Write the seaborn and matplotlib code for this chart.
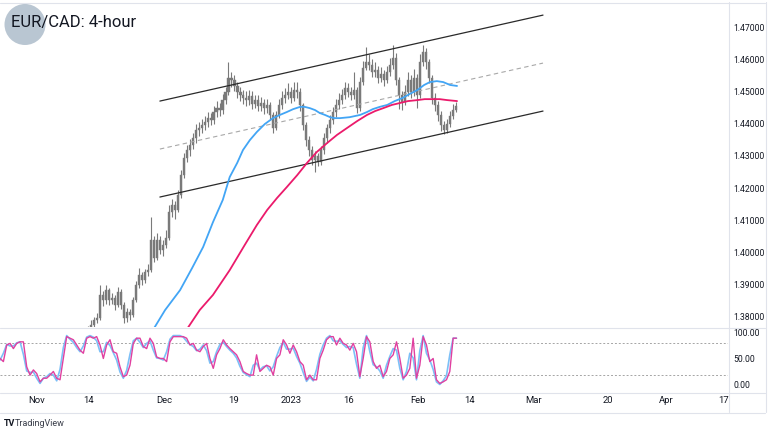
import numpy as np
import pandas as pd
import seaborn as sns
import matplotlib
matplotlib.use("Agg")
import matplotlib.pyplot as plt
from matplotlib import font_manager
from matplotlib.patches import Circle
from matplotlib.lines import Line2D

# ---------------- data ----------------
title = "EUR/CAD: 4-hour"
# x axis in business-day index (0 = 1 Nov 2022)
date_tick_pos = [0, 9, 22, 34, 44, 54, 66, 75, 86, 99, 109, 119]
date_tick_labels = ["Nov", "14", "Dec", "19", "2023", "16", "Feb", "14", "Mar", "20", "Apr", "17"]
price_ticks = [1.38, 1.39, 1.40, 1.41, 1.42, 1.43, 1.44, 1.45, 1.46, 1.47]
stoch_ticks = [0, 50, 100]

bar_start, bar_end = 8.3, 72.6
first_open = 1.3735
closes = [1.3743, 1.3759, 1.3775, 1.3790, 1.3796, 1.3868, 1.3852, 1.3883, 1.3852, 1.3858,
          1.3837, 1.3877, 1.3837, 1.3796, 1.3815, 1.3806, 1.3852, 1.3899, 1.3930, 1.3914,
          1.3939, 1.3945, 1.4039, 1.3983, 1.4039, 1.4008, 1.4023, 1.4045, 1.4125, 1.4147,
          1.4132, 1.4178, 1.4240, 1.4293, 1.4318, 1.4334, 1.4355, 1.4380, 1.4386, 1.4396,
          1.4405, 1.4417, 1.4411, 1.4436, 1.4448, 1.4442, 1.4473, 1.4498, 1.4542, 1.4535,
          1.4517, 1.4498, 1.4489, 1.4480, 1.4473, 1.4486, 1.4461, 1.4473, 1.4455, 1.4464,
          1.4448, 1.4458, 1.4427, 1.4386, 1.4427, 1.4458, 1.4480, 1.4489, 1.4498, 1.4480,
          1.4504, 1.4498, 1.4458, 1.4396, 1.4349, 1.4318, 1.4287, 1.4299, 1.4281, 1.4318,
          1.4355, 1.4386, 1.4411, 1.4436, 1.4458, 1.4473, 1.4489, 1.4511, 1.4498, 1.4489,
          1.4504, 1.4448, 1.4529, 1.4573, 1.4591, 1.4582, 1.4560, 1.4566, 1.4542, 1.4554,
          1.4535, 1.4560, 1.4582, 1.4604, 1.4535, 1.4489, 1.4467, 1.4498, 1.4535, 1.4498,
          1.4542, 1.4489, 1.4591, 1.4622, 1.4591, 1.4542, 1.4480, 1.4458, 1.4427, 1.4396,
          1.4380, 1.4399, 1.4424, 1.4442, 1.4455]
highs = [1.3755, 1.3770, 1.3790, 1.3800, 1.3812, 1.3900, 1.3880, 1.3898, 1.3890, 1.3875,
         1.3868, 1.3893, 1.3885, 1.3845, 1.3828, 1.3825, 1.3862, 1.3912, 1.3952, 1.3940,
         1.3950, 1.3965, 1.4110, 1.4050, 1.4060, 1.4050, 1.4040, 1.4070, 1.4147, 1.4165,
         1.4160, 1.4195, 1.4255, 1.4310, 1.4335, 1.4352, 1.4372, 1.4398, 1.4405, 1.4415,
         1.4425, 1.4435, 1.4432, 1.4455, 1.4470, 1.4465, 1.4492, 1.4515, 1.4591, 1.4560,
         1.4550, 1.4530, 1.4515, 1.4505, 1.4500, 1.4505, 1.4500, 1.4490, 1.4488, 1.4482,
         1.4478, 1.4475, 1.4468, 1.4435, 1.4440, 1.4475, 1.4500, 1.4510, 1.4525, 1.4515,
         1.4528, 1.4530, 1.4510, 1.4465, 1.4405, 1.4360, 1.4330, 1.4315, 1.4310, 1.4332,
         1.4370, 1.4400, 1.4428, 1.4452, 1.4475, 1.4495, 1.4508, 1.4530, 1.4525, 1.4515,
         1.4560, 1.4515, 1.4545, 1.4595, 1.4638, 1.4615, 1.4600, 1.4590, 1.4580, 1.4575,
         1.4568, 1.4578, 1.4605, 1.4644, 1.4620, 1.4545, 1.4500, 1.4520, 1.4560, 1.4550,
         1.4570, 1.4555, 1.4615, 1.4644, 1.4635, 1.4600, 1.4550, 1.4495, 1.4470, 1.4438,
         1.4408, 1.4415, 1.4440, 1.4460, 1.4468]
lows = [1.3725, 1.3735, 1.3750, 1.3765, 1.3780, 1.3790, 1.3835, 1.3840, 1.3838, 1.3840,
        1.3822, 1.3830, 1.3825, 1.3782, 1.3785, 1.3790, 1.3800, 1.3845, 1.3890, 1.3900,
        1.3905, 1.3928, 1.3940, 1.3970, 1.3975, 1.3995, 1.3990, 1.4015, 1.4040, 1.4110,
        1.4105, 1.4125, 1.4170, 1.4230, 1.4280, 1.4300, 1.4320, 1.4340, 1.4362, 1.4370,
        1.4380, 1.4390, 1.4395, 1.4400, 1.4420, 1.4425, 1.4430, 1.4460, 1.4490, 1.4515,
        1.4500, 1.4480, 1.4470, 1.4462, 1.4455, 1.4458, 1.4445, 1.4448, 1.4438, 1.4440,
        1.4430, 1.4432, 1.4410, 1.4372, 1.4380, 1.4418, 1.4445, 1.4465, 1.4478, 1.4465,
        1.4470, 1.4480, 1.4440, 1.4380, 1.4330, 1.4300, 1.4270, 1.4250, 1.4268, 1.4272,
        1.4305, 1.4340, 1.4372, 1.4398, 1.4420, 1.4445, 1.4460, 1.4475, 1.4482, 1.4472,
        1.4475, 1.4432, 1.4440, 1.4520, 1.4565, 1.4565, 1.4545, 1.4545, 1.4525, 1.4530,
        1.4518, 1.4525, 1.4548, 1.4570, 1.4520, 1.4445, 1.4442, 1.4458, 1.4485, 1.4480,
        1.4485, 1.4448, 1.4480, 1.4580, 1.4570, 1.4525, 1.4462, 1.4438, 1.4408, 1.4378,
        1.4368, 1.4370, 1.4390, 1.4415, 1.4435]

# moving averages (business-day index, price)
ma_fast_x = [20.1, 22.2, 24.8, 26.9, 28.8, 30.5, 32.2, 33.4, 34.7, 35.7, 36.9, 38.1, 39.5, 40.9,
             42.1, 43.3, 44.4, 45.6, 46.4, 47.3, 48.2, 49.0, 49.9, 50.8, 51.6, 52.5, 54.2, 56.0,
             57.2, 58.2, 59.4, 60.7, 62.0, 63.4, 64.6, 65.9, 67.1, 68.1, 69.3, 70.4, 71.6, 72.8]
ma_fast_y = [1.3759, 1.3821, 1.3883, 1.3952, 1.4017, 1.4094, 1.4163, 1.4234, 1.4278, 1.4318,
             1.4349, 1.4374, 1.4399, 1.4417, 1.4427, 1.4436, 1.4445, 1.4452, 1.4452, 1.4448,
             1.4442, 1.4433, 1.4427, 1.4420, 1.4417, 1.4417, 1.4420, 1.4427, 1.4436, 1.4445,
             1.4452, 1.4458, 1.4470, 1.4480, 1.4492, 1.4504, 1.4520, 1.4529, 1.4532, 1.4529,
             1.4520, 1.4517]
ma_slow_x = [26.0, 28.2, 30.5, 33.4, 36.0, 38.1, 39.9, 41.6, 43.3, 45.1, 46.8, 48.5, 50.3, 52.0,
             53.7, 55.5, 57.2, 58.6, 60.0, 61.5, 62.9, 64.3, 65.9, 67.2, 68.6, 69.8, 71.1, 72.8]
ma_slow_y = [1.3762, 1.3821, 1.3868, 1.3945, 1.4023, 1.4085, 1.4132, 1.4169, 1.4203, 1.4240,
             1.4278, 1.4312, 1.4340, 1.4365, 1.4386, 1.4408, 1.4427, 1.4439, 1.4448, 1.4458,
             1.4464, 1.4470, 1.4473, 1.4476, 1.4476, 1.4476, 1.4473, 1.4470]

# channel (business-day index, price)
channel_x = [21.3, 87.7]
channel_upper = [1.4470, 1.4737]
channel_mid = [1.4321, 1.4588]
channel_lower = [1.4172, 1.4439]

# stochastic RSI
stoch_start, stoch_end = -6.4, 72.7
stoch_d = [51, 45, 77, 80, 70, 80, 83, 83, 35, 19, 29, 22, 6, 13, 13, 19, 26, 13, 10, 51,
           93, 90, 87, 77, 67, 61, 90, 93, 90, 93, 77, 51, 77, 87, 64, 61, 35, 16, 19, 38,
           80, 90, 90, 74, 70, 90, 80, 54, 51, 51, 45, 83, 93, 93, 93, 93, 90, 77, 80, 67,
           64, 74, 80, 51, 32, 58, 70, 87, 77, 70, 64, 58, 45, 26, 22, 19, 19, 58, 26, 32,
           38, 35, 19, 51, 58, 87, 77, 61, 77, 64, 45, 38, 10, 19, 10, 10, 51, 67, 87, 93,
           93, 77, 90, 80, 77, 67, 80, 64, 16, 51, 93, 83, 45, 32, 38, 16, 26, 51, 58, 83,
           51, 13, 19, 32, 90, 13, 38, 93, 77, 45, 51, 10, 3, 6, 10, 26, 90, 90]
stoch_k = [48, 61, 78, 75, 75, 81, 83, 59, 27, 24, 25, 13, 3, 13, 16, 22, 19, 8, 30, 72,
           95, 88, 82, 72, 64, 75, 92, 95, 92, 85, 64, 64, 82, 76, 62, 48, 25, 13, 28, 59,
           85, 90, 82, 72, 80, 85, 67, 52, 51, 48, 64, 88, 95, 95, 95, 92, 84, 78, 74, 66,
           69, 77, 66, 42, 45, 64, 78, 82, 74, 67, 61, 52, 36, 24, 20, 16, 38, 42, 29, 35,
           37, 27, 35, 55, 72, 82, 69, 69, 71, 55, 42, 24, 7, 15, 8, 30, 59, 77, 90, 95,
           85, 84, 85, 78, 72, 74, 72, 40, 13, 72, 95, 64, 39, 35, 27, 13, 38, 55, 70, 67,
           32, 10, 26, 61, 52, 10, 66, 95, 61, 48, 30, 6, 1, 8, 18, 58, 90, 90]
stoch_levels = [20, 80]

# ---------------- style ----------------
sns.set_theme(style="white")
names = {f.name for f in font_manager.fontManager.ttflist}
narrow = "Liberation Sans Narrow" if "Liberation Sans Narrow" in names else "Roboto"
plt.rcParams["font.family"] = [narrow, "DejaVu Sans"]

W, H = 768, 432
fig = plt.figure(figsize=(W / 100, H / 100), dpi=100)
fig.patch.set_facecolor("white")

def rect(x0, y0, x1, y1):
    return [x0 / W, 1 - y1 / H, (x1 - x0) / W, (y1 - y0) / H]

ax = fig.add_axes(rect(0, 0, 728, 327))
axs = fig.add_axes(rect(0, 328, 728, 392), sharex=ax)

xmin, xmax = -6.41, 119.76
ax.set_xlim(xmin, xmax)
ax.set_ylim(1.37684, 1.47839)
axs.set_ylim(-13.5, 109.6)

# candles
n = len(closes)
bx = np.linspace(bar_start, bar_end, n)
opens = [first_open] + closes[:-1]
candle_col = "#7a7a7a"
ax.vlines(bx, lows, highs, color=candle_col, lw=0.8, zorder=2)
body_bottom = np.minimum(opens, closes)
body_h = np.maximum(np.abs(np.array(closes) - np.array(opens)), 0.0002)
ax.bar(bx, body_h, bottom=body_bottom, width=0.36, color=candle_col, edgecolor=candle_col,
       linewidth=0.3, zorder=2)

# channel
ax.plot(channel_x, channel_upper, color="#2a2a2a", lw=0.9, zorder=3)
ax.plot(channel_x, channel_lower, color="#2a2a2a", lw=0.9, zorder=3)
ax.plot(channel_x, channel_mid, color="#a8a8a8", lw=0.8, ls=(0, (4, 3)), zorder=3)

# moving averages
df_fast = pd.DataFrame({"x": ma_fast_x, "y": ma_fast_y})
df_slow = pd.DataFrame({"x": ma_slow_x, "y": ma_slow_y})
sns.lineplot(data=df_fast, x="x", y="y", ax=ax, color="#42a5f5", lw=1.3, zorder=4)
sns.lineplot(data=df_slow, x="x", y="y", ax=ax, color="#eb1a6b", lw=1.3, zorder=4)

# stochastic
sx = np.linspace(stoch_start, stoch_end, len(stoch_d))
df_st = pd.DataFrame({"x": sx, "k": stoch_k, "d": stoch_d})
sns.lineplot(data=df_st, x="x", y="k", ax=axs, color="#7cc0f7", lw=1.2, zorder=3)
sns.lineplot(data=df_st, x="x", y="d", ax=axs, color="#e040a0", lw=1.0, zorder=4)
for lv in stoch_levels:
    axs.axhline(lv, color="#a5a5a5", lw=0.7, ls=(0, (2, 2)), zorder=1)

# axes cosmetics
for a in (ax, axs):
    for s in a.spines.values():
        s.set_visible(False)
    a.set_xlabel("")
    a.set_ylabel("")
    a.yaxis.tick_right()
    a.tick_params(axis="y", length=0, pad=4, labelsize=6.2, labelcolor="#131722")
    a.grid(False)

ax.set_yticks(price_ticks)
ax.set_yticklabels([f"{v:.5f}" for v in price_ticks])
axs.set_yticks(stoch_ticks)
axs.set_yticklabels([f"{v:.2f}" for v in stoch_ticks])
ax.tick_params(axis="x", length=0, labelbottom=False)
axs.set_xticks(date_tick_pos)
axs.set_xticklabels(date_tick_labels)
axs.tick_params(axis="x", length=0, pad=3, labelsize=6.8, labelcolor="#131722")

# panel separators
sep = "#e0e3eb"
for (x0, y0, x1, y1) in [(0, 327.5, 765, 327.5), (0, 392.5, 765, 392.5), (0, 412.5, 765, 412.5),
                         (728.5, 2, 728.5, 412), (765.5, 2, 765.5, 412), (0, 2.5, 765, 2.5)]:
    fig.add_artist(Line2D([x0 / W, x1 / W], [1 - y0 / H, 1 - y1 / H], color=sep, lw=0.8))

# logo circle + title
fig.add_artist(Circle((0.25, H / 100 - 0.245), 0.205, transform=fig.dpi_scale_trans,
                      facecolor="#b2c0cd", edgecolor="none", alpha=0.9, zorder=5))
fig.text(11 / W, 1 - 22 / H, title, fontsize=12, color="#131722", va="center", ha="left", zorder=6)

# TradingView mark
fig.text(4 / W, 1 - 424 / H, "TV", fontsize=6.5, fontweight="bold", color="#131722", va="center")
fig.text(15 / W, 1 - 424 / H, "TradingView", fontsize=6.5, color="#3a3e4a", va="center")

fig.savefig("out.png", dpi=100)
